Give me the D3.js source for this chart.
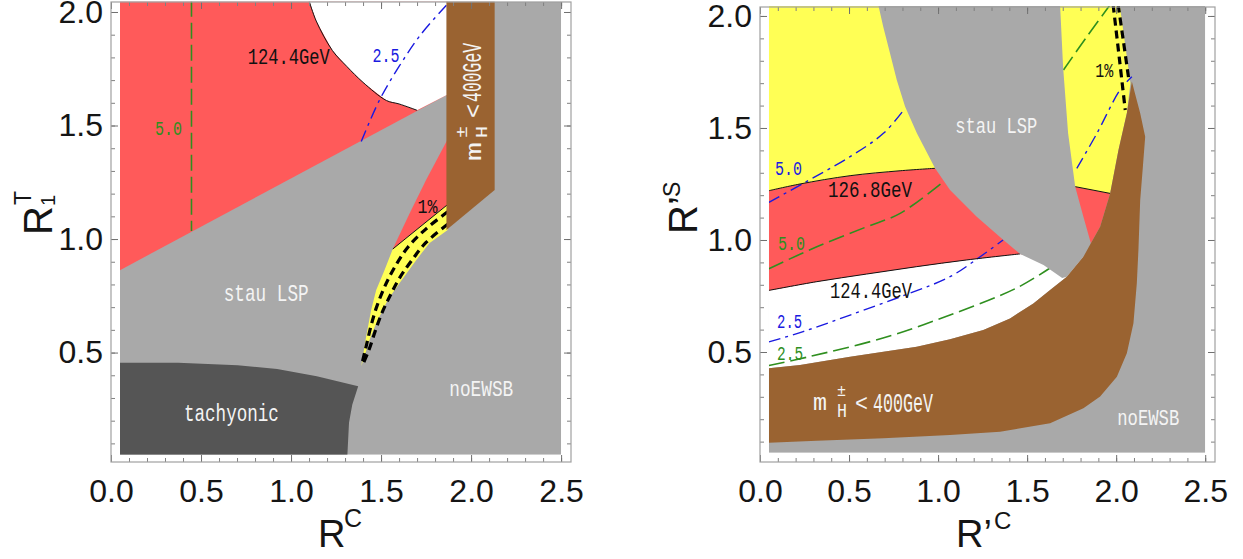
<!DOCTYPE html>
<html>
<head>
<meta charset="utf-8">
<script src="https://cdn.jsdelivr.net/npm/d3@7"></script>
<style>
body { margin: 0; background: #fff; }
svg { display: block; }
</style>
</head>
<body>
<svg id="chart" width="1243" height="559"></svg>
<script>
"use strict";

// ---------- tick labels (shared) ----------
const xMajor = [0, 0.5, 1.0, 1.5, 2.0, 2.5];
const yMajor = [0.5, 1.0, 1.5, 2.0];
const xMinor = d3.range(1, 26).map(i => i / 10);
const yMinor = d3.range(1, 21).map(i => i / 10);

// ---------- left panel: R^C vs R1^T ----------
const L_red = [[0.05,0.863],[0.05,2.05],[1.87,2.05],[1.87,1.637]];
const L_c1244 = [[1.10,2.05],[1.14,1.96],[1.23,1.83],[1.31,1.76],[1.40,1.69],[1.53,1.61],[1.60,1.595],[1.70,1.567]];
const L_whiteEnd = [[1.87,1.637],[1.87,2.05]];
const L_redSliver = [[1.87,1.44],[1.75,1.26],[1.657,1.11],[1.565,0.956],[1.87,1.152]];
const L_yellow = [[1.565,0.956],[1.87,1.152],[1.87,1.040],[1.768,0.981],[1.695,0.907],[1.602,0.805],
  [1.537,0.731],[1.473,0.629],[1.436,0.555],[1.39,0.44],[1.417,0.570],[1.445,0.687],[1.473,0.775],[1.519,0.863]];
const L_yellowTop = [[1.565,0.956],[1.87,1.152]];
const L_dashA = [[1.87,1.12],[1.75,1.045],[1.65,0.965],[1.575,0.875],[1.52,0.79],[1.475,0.70],[1.445,0.62],[1.415,0.52],[1.395,0.455]];
const L_dashB = [[1.87,1.065],[1.75,0.985],[1.665,0.90],[1.60,0.825],[1.55,0.75],[1.505,0.675],[1.47,0.60],[1.432,0.51],[1.40,0.45]];
const L_tachyonic = [[0.05,0.05],[0.05,0.455],[0.373,0.455],[0.703,0.444],[0.923,0.428],[1.143,0.396],
  [1.373,0.352],[1.34,0.27],[1.322,0.191],[1.313,0.05]];
const L_brown = [[1.863,2.05],[2.131,2.05],[2.131,1.216],[1.863,1.040]];
const L_blue25 = [[1.39,1.43],[1.49,1.61],[1.60,1.76],[1.72,1.90],[1.863,2.03]];
const L_green50 = [[0.447,2.05],[0.447,1.035]];

// ---------- right panel: R'^C vs R'^S ----------
const R_yellow = [[0.05,2.05],[2.02,2.05],[2.08,1.70],[2.06,1.567],[2.013,1.402],[1.966,1.208],[1.770,1.238],
  [1.6,1.29],[1.3,1.33],[0.983,1.320],[0.787,1.309],[0.506,1.287],[0.225,1.25],[0.05,1.22]];
const R_red = [[0.05,1.22],[0.225,1.25],[0.506,1.287],[0.787,1.309],[0.983,1.320],[1.3,1.33],[1.6,1.29],
  [1.770,1.238],[1.966,1.208],[1.91,1.059],[1.858,0.985],[1.70,0.90],[1.461,0.938],[1.161,0.911],
  [0.880,0.881],[0.599,0.848],[0.319,0.814],[0.05,0.775]];
const R_white = [[0.05,0.775],[0.319,0.814],[0.599,0.848],[0.880,0.881],[1.161,0.911],[1.461,0.938],[1.70,0.90],
  [1.816,0.925],[1.723,0.836],[1.629,0.777],[1.535,0.717],[1.404,0.650],[1.254,0.598],[1.067,0.557],
  [0.880,0.524],[0.693,0.501],[0.506,0.479],[0.225,0.442],[0.05,0.427]];
const R_stau = [[0.664,2.05],[0.692,1.952],[0.730,1.833],[0.768,1.714],[0.815,1.595],[0.881,1.476],[0.983,1.320],
  [1.067,1.223],[1.217,1.104],[1.367,1.0],[1.461,0.9375],[1.592,0.888],[1.697,0.830],[1.723,0.836],
  [1.816,0.925],[1.858,0.985],[1.816,1.104],[1.770,1.238],[1.730,1.478],[1.702,1.772],[1.685,2.05]];
const R_brown = [[0.05,0.427],[0.225,0.442],[0.506,0.479],[0.693,0.501],[0.880,0.524],[1.067,0.557],[1.254,0.598],
  [1.404,0.650],[1.535,0.717],[1.629,0.777],[1.723,0.836],[1.816,0.925],[1.858,0.985],[1.910,1.059],
  [1.966,1.208],[2.013,1.402],[2.060,1.566],[2.088,1.707],[2.135,1.566],[2.163,1.461],[2.150,1.327],
  [2.135,1.179],[2.125,0.955],[2.116,0.807],[2.097,0.628],[2.060,0.494],[2.004,0.390],[1.910,0.301],
  [1.816,0.249],[1.629,0.182],[1.348,0.144],[1.067,0.129],[0.693,0.115],[0.319,0.104],[0.05,0.095]];
const R_c1268a = [[0.05,1.22],[0.225,1.25],[0.506,1.287],[0.787,1.309],[0.983,1.320]];
const R_c1268b = [[1.770,1.238],[1.966,1.208]];
const R_c1244 = [[0.05,0.775],[0.319,0.814],[0.599,0.848],[0.880,0.881],[1.161,0.911],[1.461,0.938]];
const R_blue50a = [[0.05,1.168],[0.243,1.253],[0.506,1.372],[0.693,1.476],[0.815,1.588]];
const R_blue50b = [[1.779,1.320],[1.892,1.476],[2.022,1.670],[2.088,1.729]];
const R_green50a = [[0.05,0.872],[0.319,0.970],[0.599,1.059],[0.787,1.119],[1.030,1.260]];
const R_green50b = [[1.704,1.759],[1.835,1.907],[1.966,2.05]];
const R_blue25 = [[0.05,0.545],[0.242,0.591],[0.506,0.665],[0.843,0.763],[1.067,0.836],[1.236,0.925],[1.365,1.0]];
const R_green25 = [[0.05,0.44],[0.270,0.478],[0.691,0.5625],[1.067,0.665],[1.442,0.786],[1.629,0.875]];
const R_dashA = [[1.983,2.05],[2.018,1.81],[2.051,1.58]];
const R_dashB = [[2.011,2.05],[2.042,1.88],[2.073,1.705]];

// colours
const GRAY = "#a9a9a9", RED = "#ff5a5a", YELLOW = "#ffff55", BROWN = "#9a6331",
      DARK = "#555555", BLUE = "#1a1ae0", GREEN = "#2f8f1f", WHITE_TXT = "#f4f4f4";
const tickFont = "'Liberation Sans', Arial, sans-serif";
const lblFont = "'Liberation Mono', 'DejaVu Sans Mono', monospace";

const svg = d3.select("#chart");

function makePanel(id, xRange, yDomain, yRange) {
    const x = d3.scaleLinear().domain([0, 2.555]).range(xRange);
    const y = d3.scaleLinear().domain(yDomain).range(yRange);
    const g = svg.append("g");
    g.append("clipPath").attr("id", id)
        .append("rect")
        .attr("x", x(0.05)).attr("y", y(2.045))
        .attr("width", x(2.5) - x(0.05))
        .attr("height", y(0.05) - y(2.045));
    const plot = g.append("g").attr("clip-path", `url(#${id})`);
    plot.append("rect")
        .attr("x", x(0.05)).attr("y", y(2.045))
        .attr("width", x(2.5) - x(0.05))
        .attr("height", y(0.05) - y(2.045))
        .attr("fill", GRAY);
    return {g, plot, x, y};
}

function area(p, pts, fill) {
    const line = d3.line().x(d => p.x(d[0])).y(d => p.y(d[1]));
    p.plot.append("path").attr("d", line(pts) + "Z").attr("fill", fill).attr("stroke", "none");
}

function curve(p, pts, stroke, width, dash, smooth) {
    const line = d3.line().x(d => p.x(d[0])).y(d => p.y(d[1]))
        .curve(smooth ? d3.curveCatmullRom : d3.curveLinear);
    p.plot.append("path").attr("d", line(pts))
        .attr("fill", "none").attr("stroke", stroke)
        .attr("stroke-width", width)
        .attr("stroke-dasharray", dash || null);
}

function label(p, txt, pos, color, size, len) {
    p.g.append("text")
        .attr("x", p.x(pos[0])).attr("y", p.y(pos[1]))
        .attr("font-family", lblFont).attr("font-size", size)
        .attr("fill", color)
        .attr("textLength", len).attr("lengthAdjust", "spacingAndGlyphs")
        .text(txt);
}

function frame(p) {
    const [x0, x1] = p.x.range();
    const [y0, y1] = p.y.range();
    const sides = [
        [d3.axisBottom, `translate(0,${y0})`, p.x, xMajor, xMinor, true],
        [d3.axisTop, `translate(0,${y1})`, p.x, xMajor, xMinor, false],
        [d3.axisLeft, `translate(${x0},0)`, p.y, yMajor, yMinor, true],
        [d3.axisRight, `translate(${x1},0)`, p.y, yMajor, yMinor, false]
    ];
    sides.forEach(([ax, tr, sc, major, minor, labelled]) => {
        const gm = p.g.append("g").attr("transform", tr)
            .call(ax(sc).tickValues(minor).tickSize(-4).tickSizeOuter(0).tickFormat(""));
        gm.select(".domain").remove();
        gm.selectAll("line").attr("stroke", "#808080");
        const gM = p.g.append("g").attr("transform", tr)
            .call(ax(sc).tickValues(major).tickSize(-7).tickSizeOuter(0)
                .tickPadding(ax === d3.axisBottom ? 17 : 8)
                .tickFormat(labelled ? d3.format(".1f") : ""));
        gM.select(".domain").remove();
        gM.selectAll("line").attr("stroke", "#707070");
        gM.attr("font-size", 32).attr("font-family", tickFont);
        gM.selectAll("text").attr("fill", "#151515");
    });
    p.g.append("rect")
        .attr("x", x0).attr("y", y1)
        .attr("width", x1 - x0).attr("height", y0 - y1)
        .attr("fill", "none").attr("stroke", "#a0a0a0").attr("stroke-width", 1.2);
}

// ======== left panel ========
const L = makePanel("clipL", [111, 571], [0.018, 2.044], [462, 2]);
area(L, L_red, RED);
area(L, L_c1244.concat(L_whiteEnd), "#ffffff");
area(L, L_redSliver, RED);
area(L, L_yellow, YELLOW);
area(L, L_tachyonic, DARK);
curve(L, L_green50, GREEN, 1.6, "16,6");
curve(L, L_blue25, BLUE, 1.4, "12,5,3,5", true);
curve(L, L_c1244, "#111", 1, null, true);
curve(L, L_yellowTop, "#111", 1);
curve(L, L_dashA, "#000", 3.2, "8,5", true);
curve(L, L_dashB, "#000", 3.2, "8,5", true);
area(L, L_brown, BROWN);
frame(L);

label(L, "124.4GeV", [0.759, 1.771], "#111", 22, 82);
label(L, "2.5", [1.452, 1.780], BLUE, 20, 27);
label(L, "5.0", [0.244, 1.458], GREEN, 20, 27);
label(L, "1%", [1.702, 1.115], "#111", 21, 20);
label(L, "stau LSP", [0.626, 0.727], WHITE_TXT, 24, 85);
label(L, "tachyonic", [0.405, 0.198], WHITE_TXT, 23, 95);
label(L, "noEWSB", [1.879, 0.308], WHITE_TXT, 22, 64);

// rotated charged-Higgs label in the brown strip
const lm = L.g.append("g")
    .attr("transform", `translate(${L.x(2.054)},${L.y(1.344)}) rotate(-90)`)
    .attr("font-family", lblFont).attr("fill", WHITE_TXT);
lm.append("text").attr("x", 0).attr("y", 0).attr("font-size", 22).attr("textLength", 19).attr("lengthAdjust", "spacingAndGlyphs").text("m");
lm.append("text").attr("x", 23).attr("y", 6).attr("font-size", 16).attr("textLength", 12).attr("lengthAdjust", "spacingAndGlyphs").text("H");
lm.append("text").attr("x", 23).attr("y", -14).attr("font-size", 16).attr("textLength", 12).attr("lengthAdjust", "spacingAndGlyphs").text("±");
lm.append("text").attr("x", 43).attr("y", 0).attr("font-size", 24).attr("textLength", 14).attr("lengthAdjust", "spacingAndGlyphs").text("<");
lm.append("text").attr("x", 59).attr("y", 0).attr("font-size", 27).attr("textLength", 59).attr("lengthAdjust", "spacingAndGlyphs").text("400GeV");

// axis titles
svg.append("text").attr("x", 318).attr("y", 547)
    .attr("font-family", tickFont).attr("font-size", 38).attr("fill", "#151515").text("R");
svg.append("text").attr("x", 344).attr("y", 527)
    .attr("font-family", tickFont).attr("font-size", 25).attr("fill", "#151515").text("C");
const ly = svg.append("g").attr("transform", "translate(52,235) rotate(-90)")
    .attr("font-family", tickFont).attr("fill", "#151515");
ly.append("text").attr("x", 0).attr("y", 0).attr("font-size", 40).text("R");
ly.append("text").attr("x", 29).attr("y", 3).attr("font-size", 20).text("1");
ly.append("text").attr("x", 30).attr("y", -21).attr("font-size", 23).text("T");

// ======== right panel ========
const R = makePanel("clipR", [760, 1215], [0.009, 2.040], [462, 7]);
area(R, R_white, "#ffffff");
area(R, R_red, RED);
area(R, R_yellow, YELLOW);
curve(R, R_blue50a, BLUE, 1.4, "12,5,3,5", true);
curve(R, R_blue50b, BLUE, 1.4, "12,5,3,5", true);
curve(R, R_green50a, GREEN, 1.6, "16,6", true);
curve(R, R_green50b, GREEN, 1.6, "16,6", true);
curve(R, R_blue25, BLUE, 1.4, "12,5,3,5", true);
curve(R, R_green25, GREEN, 1.6, "16,6", true);
curve(R, R_c1268a, "#111", 1, null, true);
curve(R, R_c1268b, "#111", 1, null, true);
curve(R, R_c1244, "#111", 1, null, true);
area(R, R_stau, GRAY);
area(R, R_brown, BROWN);
curve(R, R_dashA, "#000", 3.2, "8,5", true);
curve(R, R_dashB, "#000", 3.2, "8,5", true);
frame(R);

label(R, "126.8GeV", [0.382, 1.192], "#111", 22, 84);
label(R, "124.4GeV", [0.393, 0.741], "#111", 22, 82);
label(R, "5.0", [0.084, 1.290], BLUE, 20, 27);
label(R, "5.0", [0.101, 0.955], GREEN, 20, 27);
label(R, "2.5", [0.096, 0.607], BLUE, 20, 25);
label(R, "2.5", [0.096, 0.464], GREEN, 20, 26);
label(R, "1%", [1.882, 1.728], "#111", 21, 18);
label(R, "stau LSP", [1.096, 1.478], WHITE_TXT, 22, 82);
label(R, "noEWSB", [2.006, 0.174], WHITE_TXT, 22, 62);

const rm = R.g.append("g")
    .attr("transform", `translate(${R.x(0.298)},${R.y(0.241)})`)
    .attr("font-family", lblFont).attr("fill", WHITE_TXT);
rm.append("text").attr("x", 0).attr("y", 0).attr("font-size", 24).attr("textLength", 14).attr("lengthAdjust", "spacingAndGlyphs").text("m");
rm.append("text").attr("x", 24).attr("y", -14).attr("font-size", 16).attr("textLength", 9).attr("lengthAdjust", "spacingAndGlyphs").text("±");
rm.append("text").attr("x", 24).attr("y", 7).attr("font-size", 20).attr("textLength", 10).attr("lengthAdjust", "spacingAndGlyphs").text("H");
rm.append("text").attr("x", 42).attr("y", 1).attr("font-size", 24).attr("textLength", 13).attr("lengthAdjust", "spacingAndGlyphs").text("<");
rm.append("text").attr("x", 60).attr("y", 2).attr("font-size", 27).attr("textLength", 60).attr("lengthAdjust", "spacingAndGlyphs").text("400GeV");

svg.append("text").attr("x", 956).attr("y", 547)
    .attr("font-family", tickFont).attr("font-size", 38).attr("fill", "#151515").text("R’");
svg.append("text").attr("x", 994).attr("y", 529)
    .attr("font-family", tickFont).attr("font-size", 24).attr("fill", "#151515").text("C");
const ry = svg.append("g").attr("transform", "translate(697,234) rotate(-90)")
    .attr("font-family", tickFont).attr("fill", "#151515");
ry.append("text").attr("x", 0).attr("y", 0).attr("font-size", 40).text("R’");
ry.append("text").attr("x", 37).attr("y", -17).attr("font-size", 23).text("S");
</script>
</body>
</html>
